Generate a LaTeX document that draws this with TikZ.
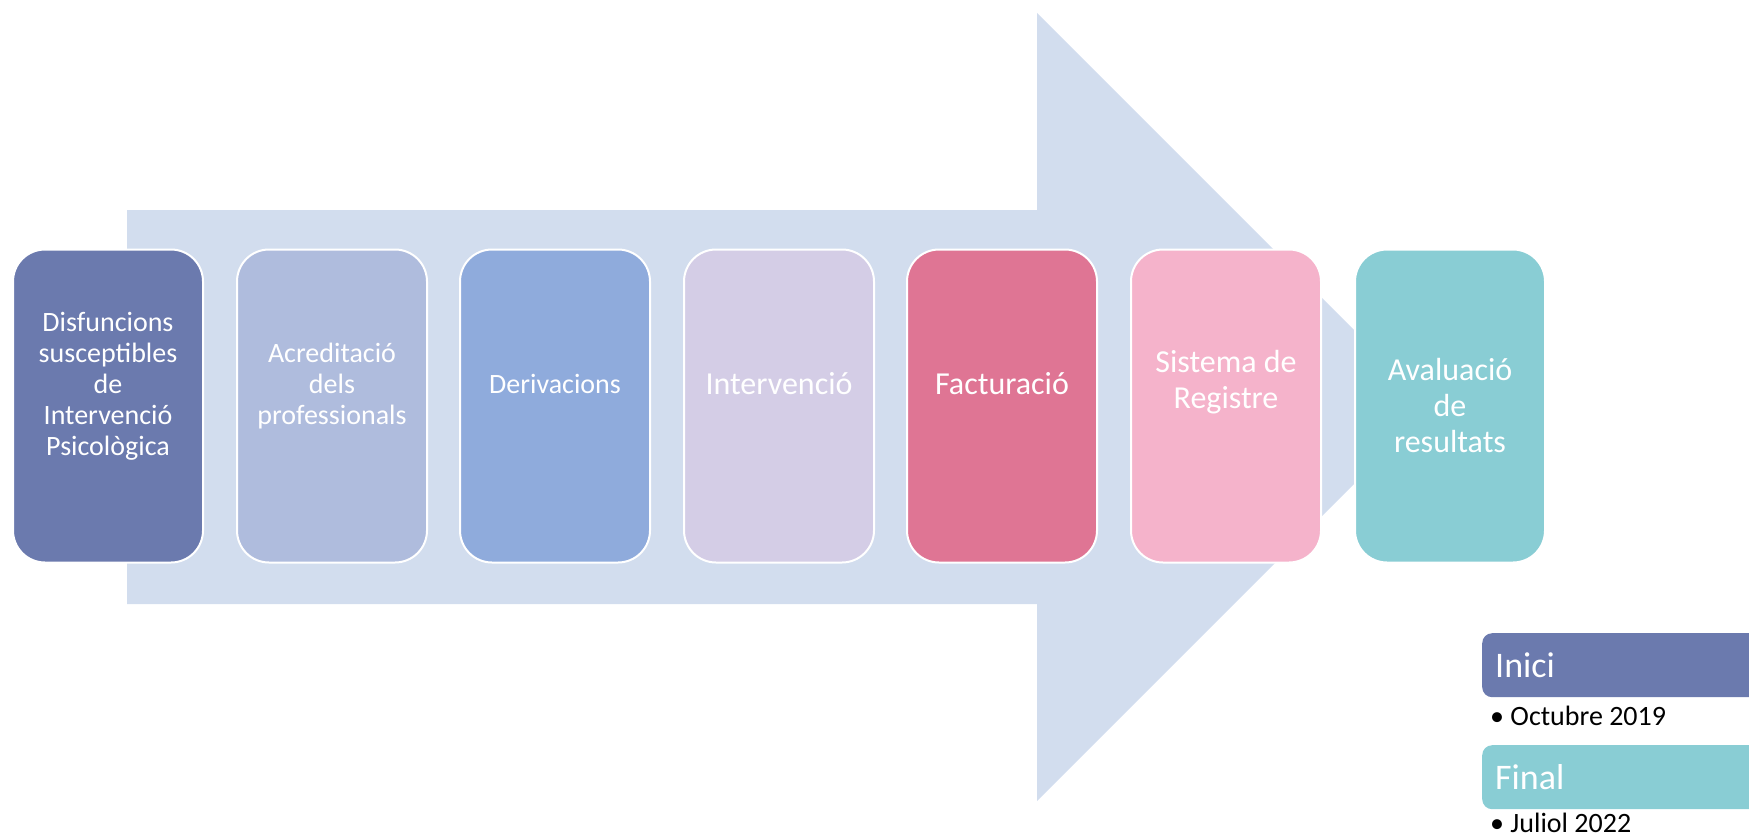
\documentclass[tikz,border=0pt]{standalone}
\usepackage{fontspec}
\setmainfont{Carlito}
\usepackage{xcolor}
\usepackage{tikz}

\definecolor{arrowfill}{HTML}{D2DDEE}
\definecolor{colA}{HTML}{6B7AAE}
\definecolor{colB}{HTML}{AFBCDD}
\definecolor{colC}{HTML}{8FABDC}
\definecolor{colD}{HTML}{D4CDE6}
\definecolor{colE}{HTML}{DF7594}
\definecolor{colF}{HTML}{F5B3CB}
\definecolor{colG}{HTML}{89CDD4}

\tikzset{
    stepbox/.style={draw=white, line width=2pt, rounded corners=32pt, minimum width=190pt, minimum height=313pt},
    steptext/.style={text=white, align=center, font=\fontsize{28}{31}\selectfont},
    bigtext/.style={text=white, align=center, font=\fontsize{32}{36}\selectfont},
    tagbox/.style={rounded corners=10pt, anchor=north west, minimum height=64pt, text width=300pt, inner xsep=13pt, text=white, font=\fontsize{36}{40}\selectfont},
    datetext/.style={anchor=west, inner sep=0pt, font=\fontsize{28}{32}\selectfont}
}

\begin{document}
\begin{tikzpicture}[x=1pt, y=-1pt]
    \useasboundingbox (0, 0) rectangle (1749, 840);
    % big arrow behind the steps
    \fill[arrowfill] (127, 210) -- (1037, 210) -- (1037, 13) -- (1431, 407) -- (1037, 801) -- (1037, 604) -- (127, 604) -- cycle;

    \node[stepbox, fill=colA] at (108, 406) (b1) {};
    \node[stepbox, fill=colB] at (332, 406) (b2) {};
    \node[stepbox, fill=colC] at (555, 406) (b3) {};
    \node[stepbox, fill=colD] at (779, 406) (b4) {};
    \node[stepbox, fill=colE] at (1002, 406) (b5) {};
    \node[stepbox, fill=colF] at (1226, 406) (b6) {};
    \node[stepbox, fill=colG] at (1450, 406) (b7) {};

    \node[steptext] at (108, 386) (t1) {Disfuncions\\susceptibles\\de\\Intervenció\\Psicològica};
    \node[steptext] at (332, 386) (t2) {Acreditació\\dels\\professionals};
    \node[steptext] at (555, 384) (t3) {Derivacions};
    \node[bigtext] at (779, 384) (t4) {Intervenció};
    \node[bigtext] at (1002, 384) (t5) {Facturació};
    \node[bigtext] at (1226, 382) (t6) {Sistema de\\Registre};
    \node[bigtext] at (1450, 406) (t7) {Avaluació\\de\\resultats};

    % dates
    \node[tagbox, fill=colA] at (1482, 633) (inici) {Inici};
    \node[datetext] at (1490, 716) (dinici) {• Octubre 2019};
    \node[tagbox, fill=colG] at (1482, 745) (final) {Final};
    \node[datetext] at (1490, 823) (dfinal) {• Juliol 2022};
\end{tikzpicture}
\end{document}
